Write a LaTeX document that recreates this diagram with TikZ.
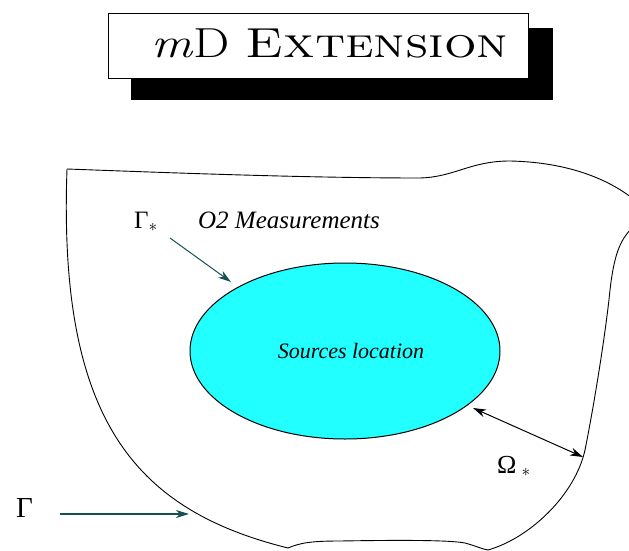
\documentclass[tikz,border=0pt]{standalone}
\usepackage{fontspec}
\newfontfamily\tms{Liberation Serif}
\usetikzlibrary{shapes.geometric,arrows.meta}
\definecolor{srccyan}{RGB}{34,255,255}
\definecolor{arrteal}{RGB}{20,80,85}
\tikzset{
  lbl/.style={inner sep=0pt, font=\tms\fontsize{25}{27}\selectfont},
  ilbl/.style={inner sep=0pt, font=\tms\itshape\fontsize{22}{24}\selectfont},
  tip/.style={-{Stealth[length=13pt,width=8pt,inset=4pt]}},
  dtip/.style={{Stealth[length=13pt,width=8pt,inset=4pt]}-{Stealth[length=13pt,width=8pt,inset=4pt]}},
}
\newcommand{\smallstar}{\raisebox{-3.5pt}{\fontsize{17.28}{18}\selectfont$*$}}
\begin{document}
\begin{tikzpicture}[x=1pt,y=-1pt]
\useasboundingbox (0,0) rectangle (629,551);
% title
\fill[black] (131,28) rectangle (553,100);
\node[draw, fill=white, line width=1.2pt, minimum width=420pt, minimum height=65pt,
      inner sep=0pt, anchor=north west] (titlebox) at (108,13) {};
\node[inner sep=0pt, anchor=base, font=\fontsize{42}{46}\selectfont] (titletext) at (330,58)
  {\scalebox{1.22}[1]{\textit{m}D \textsc{Extension}}};
% domain outline
\begin{scope}
\clip (0,0) rectangle (629,551);
\draw[line width=0.9pt] (67,169)
  .. controls (58,420) and (135,510) .. (288,548)
  .. controls (300,543) and (310,541) .. (340,541)
  .. controls (400,540) and (450,540) .. (465,543)
  .. controls (476,546) and (482,549) .. (488,550)
  .. controls (530,538) and (575,495) .. (585,450)
  .. controls (595,400) and (606,330) .. (610,290)
  .. controls (614,255) and (620,240) .. (632,228)
  .. controls (650,210) and (645,205) .. (628,195)
  .. controls (600,175) and (560,162) .. (510,161)
  .. controls (470,161) and (455,177) .. (420,178)
  .. controls (300,178) and (150,172) .. (67,169);
\end{scope}
% sources
\node[ellipse, draw, fill=srccyan, line width=1pt, minimum width=310pt, minimum height=176pt,
      inner sep=0pt] (src) at (345,351) {};
\node[ilbl, anchor=base] (srctext) at (351,358) {Sources location};
% labels
\node[lbl, anchor=base west] (gstar) at (134,228) {Γ\smallstar};
\node[ilbl, anchor=base, font=\tms\itshape\fontsize{25}{27}\selectfont] (meas) at (289,228) {O2 Measurements};
\node[lbl, anchor=base west, font=\tms\fontsize{26}{28}\selectfont] (omstar) at (497,473) {Ω\hspace{5pt}\smallstar};
\node[lbl, anchor=base west, font=\tms\fontsize{29}{31}\selectfont] (gam) at (16,517) {Γ};
% arrows
\coordinate (gsA) at (170,238);
\coordinate (gsB) at (231,282);
\draw[arrteal, line width=1pt, tip] (gsA) -- (gsB);
\coordinate (gA) at (60,514);
\coordinate (gB) at (189,514);
\draw[arrteal, line width=1.2pt, tip] (gA) -- (gB);
\coordinate (oA) at (473,408);
\coordinate (oB) at (583,457);
\draw[black, line width=1pt, dtip] (oA) -- (oB);
\end{tikzpicture}
\end{document}
